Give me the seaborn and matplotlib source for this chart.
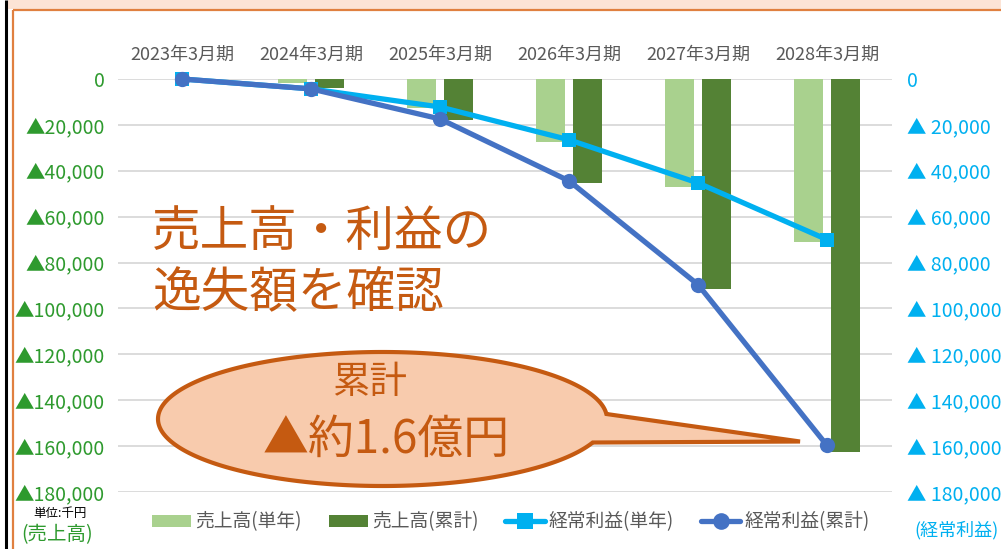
import numpy as np
import pandas as pd
import matplotlib
matplotlib.use("Agg")
import matplotlib.pyplot as plt
import seaborn as sns
from matplotlib.patches import Patch, Polygon, Rectangle
from matplotlib.lines import Line2D

# data (単位:千円, negative = loss)
periods = ["2023年3月期", "2024年3月期", "2025年3月期", "2026年3月期", "2027年3月期", "2028年3月期"]
sales_year = [0, -1700, -12500, -27400, -47000, -70900]
sales_cum = [0, -3900, -17800, -45300, -91400, -162700]
profit_year = [0, -4300, -12200, -26500, -45300, -70000]
profit_cum = [0, -4300, -17400, -44400, -89600, -159700]
yticks = [0, -20000, -40000, -60000, -80000, -100000, -120000, -140000, -160000, -180000]
series_names = ["売上高(単年)", "売上高(累計)", "経常利益(単年)", "経常利益(累計)"]

C_LG = "#a9d18e"
C_DG = "#548235"
C_LB = "#00b0f0"
C_DB = "#4472c4"
ORANGE = "#c55a11"

sns.set_theme(style="white")
plt.rcParams['font.family'] = ['Noto Sans CJK JP', 'DejaVu Sans']

W, H = 1001, 549
fig = plt.figure(figsize=(W / 100, H / 100), dpi=100)
fig.patch.set_facecolor("white")

# plot area in pixels: x 117.5..891.5, y 79..492
ax = fig.add_axes([117.5 / W, 1 - 492 / H, (891.5 - 117.5) / W, (492 - 79) / H])

df = pd.DataFrame({
    "期": periods * 2,
    "系列": [series_names[0]] * 6 + [series_names[1]] * 6,
    "値": sales_year + sales_cum,
})
sns.barplot(data=df, x="期", y="値", hue="系列", ax=ax,
            palette={series_names[0]: C_LG, series_names[1]: C_DG},
            width=0.56, gap=0.196, dodge=True, saturation=1, legend=False,
            errorbar=None, linewidth=0)

ax.set_xlim(-0.5, 5.5)
ax.set_ylim(-180000, 0)
ax.set_yticks(yticks)
ax.set_yticklabels(["0" if v == 0 else "▲{:,}".format(-v) for v in yticks])
ax.yaxis.grid(True, color="#d9d9d9", linewidth=1.3)
ax.set_axisbelow(True)
for s in ax.spines.values():
    s.set_visible(False)
ax.set_xlabel("")
ax.set_ylabel("")
ax.xaxis.tick_top()
ax.tick_params(axis="x", length=0, pad=11, labelsize=13, labelcolor="#595959")
ax.tick_params(axis="y", length=0, pad=9, labelsize=14, labelcolor="#2e9a2e")

ax2 = ax.twinx()
pos = np.arange(len(periods))
sns.lineplot(x=pos, y=profit_year, ax=ax2, color=C_LB, marker="s", markersize=10,
             linewidth=3.8, markeredgewidth=0, clip_on=False)
sns.lineplot(x=pos, y=profit_cum, ax=ax2, color=C_DB, marker="o", markersize=11,
             linewidth=3.8, markeredgewidth=0, clip_on=False)
ax2.set_xlim(-0.5, 5.5)
ax2.set_ylim(-180000, 0)
ax2.set_yticks(yticks)
ax2.set_yticklabels(["0" if v == 0 else "▲ {:,}".format(-v) for v in yticks])
ax2.tick_params(axis="y", length=0, pad=11, labelsize=14, labelcolor=C_LB)
for s in ax2.spines.values():
    s.set_visible(False)
ax2.set_ylabel("")
ax2.grid(False)

handles = [
    Patch(facecolor=C_LG, edgecolor="none"),
    Patch(facecolor=C_DG, edgecolor="none"),
    Line2D([0], [0], color=C_LB, lw=3.8, marker="s", markersize=11, markeredgewidth=0),
    Line2D([0], [0], color=C_DB, lw=3.8, marker="o", markersize=12, markeredgewidth=0),
]
fig.legend(handles, series_names, loc="center", bbox_to_anchor=(0.51, 1 - 522 / H),
           ncol=4, frameon=False, fontsize=13.5, labelcolor="#595959",
           handlelength=2.1, handleheight=0.55, handletextpad=0.2, columnspacing=1.45)

# overlay in pixel coordinates for frame, annotations
ov = fig.add_axes([0, 0, 1, 1])
ov.set_xlim(0, W)
ov.set_ylim(H, 0)
ov.axis("off")
ov.patch.set_alpha(0)

ov.add_patch(Rectangle((8, 0), W, 8.5, facecolor="#fce4d6", edgecolor="none"))
ov.plot([12.5, W], [10, 10], color="#e08040", lw=1.6, solid_capstyle="butt")
ov.plot([12.5, 12.5], [10, H], color="#e08040", lw=1.6, solid_capstyle="butt")
ov.plot([6, 6], [0, H], color="black", lw=2.2, solid_capstyle="butt")

ov.text(152, 232, "売上高・利益の", fontsize=35, color=ORANGE, va="center", ha="left")
ov.text(152, 292, "逸失額を確認", fontsize=35, color=ORANGE, va="center", ha="left")

# ellipse callout
cx, cy, a, b = 382.5, 419, 224.5, 67
tip = (800, 441.5)
t1 = np.arctan2((414 - cy) / b, (606 - cx) / a)
t2 = np.arctan2((442 - cy) / b, (588 - cx) / a)
t = np.linspace(t2, t1 + 2 * np.pi, 300)
pts = np.column_stack([cx + a * np.cos(t), cy + b * np.sin(t)])
pts = np.vstack([pts, tip])
ov.add_patch(Polygon(pts, closed=True, facecolor="#f8cbad", edgecolor=ORANGE,
                     lw=3, joinstyle="miter"))
ov.text(370, 382, "累計", fontsize=27, color=ORANGE, ha="center", va="center")
ov.text(386, 440, "▲約1.6億円", fontsize=33, color=ORANGE, ha="center", va="center")

ov.text(60, 514, "単位:千円", fontsize=9, color="black", ha="center", va="center")
ov.text(57, 535, "(売上高)", fontsize=14, color="#2e9a2e", ha="center", va="center")
ov.text(999, 530, "(経常利益)", fontsize=13, color=C_LB, ha="right", va="center")

fig.savefig("out.png", dpi=100)
